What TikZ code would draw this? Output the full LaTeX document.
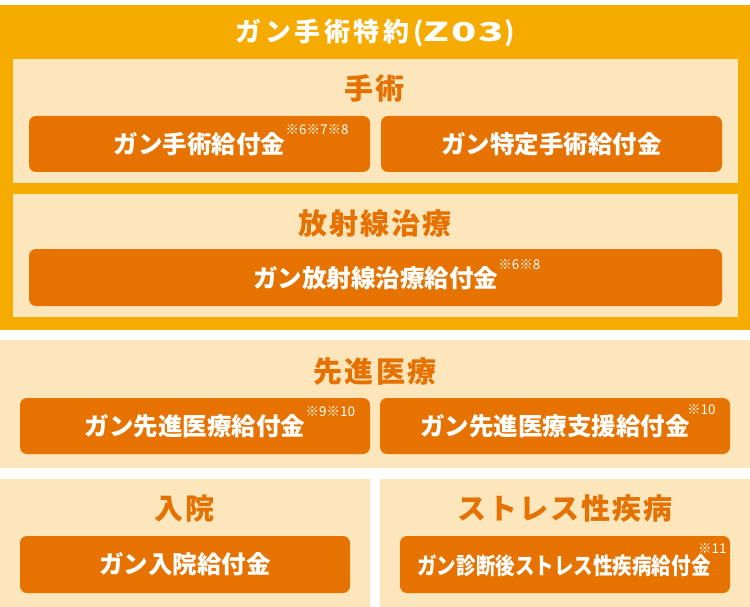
\documentclass[tikz,border=0pt]{standalone}
\usepackage{fontspec}
\newfontfamily\jpfont{Noto Sans CJK JP}
\newfontfamily\jptitle[LetterSpace=14]{Noto Sans CJK JP}
\newfontfamily\jpwide[FakeStretch=1.6, LetterSpace=8]{Noto Sans CJK JP}
\newfontfamily\jplabel[LetterSpace=7]{Noto Sans CJK JP}
\newfontfamily\jpnarrow[FakeStretch=0.85]{Noto Sans CJK JP}
\definecolor{outerorange}{RGB}{245,171,0}
\definecolor{palebox}{RGB}{253,230,188}
\definecolor{btnorange}{RGB}{230,115,0}
\definecolor{labelorange}{RGB}{228,113,0}
\begin{document}
\begin{tikzpicture}[x=1pt, y=-1pt,
    panel/.style={fill=palebox},
    btn/.style={fill=btnorange, rounded corners=7pt},
    heading/.style={text=labelorange, inner sep=0pt, font=\jplabel\bfseries\fontsize{29}{29}\selectfont},
    btntext/.style={text=white, inner sep=0pt, font=\jpfont\bfseries\fontsize{24.5}{24.5}\selectfont},
    note/.style={text=white, inner sep=0pt, anchor=west, font=\jpfont\fontsize{13.5}{13.5}\selectfont}]

    \useasboundingbox (0,0) rectangle (750,607);
    \fill[white] (0,0) rectangle (750,607);

    % rider frame
    \fill[outerorange] (0,5) rectangle (750,330);
    \node[text=white, inner sep=0pt, font=\jptitle\bfseries\fontsize{26}{26}\selectfont] (title) at (375,33) {ガン手術特約({\jpwide Z03})};

    % surgery
    \fill[panel] (12.5,59) rectangle (737.5,183);
    \node[heading] (surgery) at (375,88) {手術};
    \fill[btn] (29,116) rectangle (370,172);
    \fill[btn] (381,116) rectangle (722,172);
    \node[btntext] (gs) at (199.5,144) {ガン手術給付金};
    \node[note] (gsn) at ([yshift=14pt]gs.east) {※6※7※8};
    \node[btntext] (gts) at (551.5,144) {ガン特定手術給付金};

    % radiation
    \fill[panel] (12.5,194) rectangle (737.5,317);
    \node[heading] (radiation) at (375,223) {放射線治療};
    \fill[btn] (29,249) rectangle (722,306);
    \node[btntext] (gr) at (375.5,278) {ガン放射線治療給付金};
    \node[note] (grn) at ([yshift=13pt]gr.east) {※6※8};

    % advanced
    \fill[panel] (0,340) rectangle (750,468);
    \node[heading] (advanced) at (375,372) {先進医療};
    \fill[btn] (20,398) rectangle (370,454);
    \fill[btn] (380,398) rectangle (730,454);
    \node[btntext] (ga) at (195,426) {ガン先進医療給付金};
    \node[note] (gan) at ([yshift=14pt]ga.east) {※9※10};
    \node[btntext] (gas) at (555,426) {ガン先進医療支援給付金};
    \node[note] (gasn) at ([xshift=-3pt, yshift=16pt]gas.east) {※10};

    % hospital
    \fill[panel] (0,479) rectangle (370,607);
    \node[heading] (hospital) at (185,509) {入院};
    \fill[btn] (20,536) rectangle (350,593);
    \node[btntext] (gh) at (185,564.5) {ガン入院給付金};

    % stress
    \fill[panel] (380,479) rectangle (750,607);
    \node[heading] (stress) at (565,509) {ストレス性疾病};
    \fill[btn] (400,536) rectangle (730,593);
    \node[btntext, font=\jpnarrow\bfseries\fontsize{23}{23}\selectfont] (gd) at (564,565.5) {ガン診断後ストレス性疾病給付金};
    \node[note] (gdn) at ([xshift=-13pt, yshift=17pt]gd.east) {※11};
\end{tikzpicture}
\end{document}
